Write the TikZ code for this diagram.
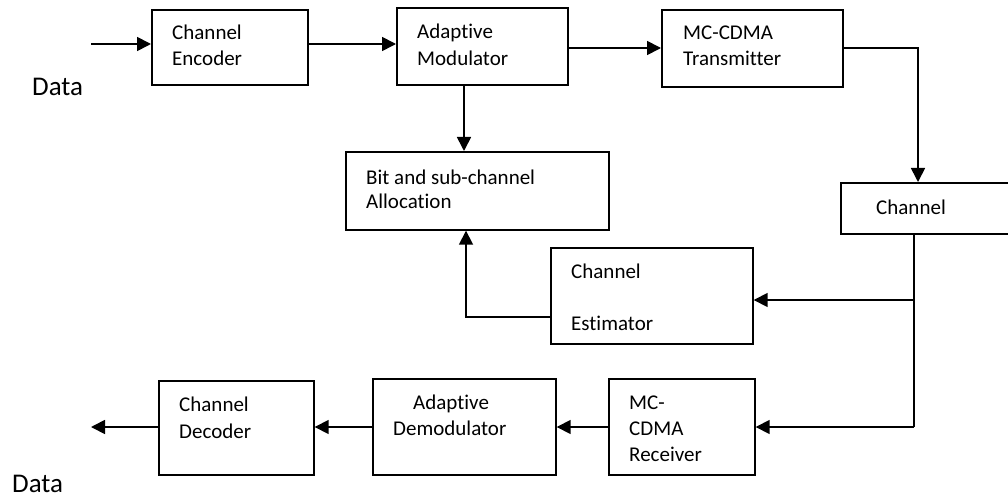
\documentclass[tikz,border=0pt]{standalone}
\usepackage{fontspec}
\setmainfont{Carlito}[Ligatures={NoCommon}]
\usetikzlibrary{arrows.meta}
\tikzset{
  blk/.style={draw, line width=1.7pt, inner sep=0pt},
  txt/.style={anchor=base west, inner sep=0pt, font=\fontsize{21}{25}\selectfont},
  dat/.style={anchor=base west, inner sep=0pt, font=\fontsize{27}{32}\selectfont},
  wire/.style={line width=1.7pt},
  arr/.style={line width=1.7pt, -{Triangle[length=14pt,width=14pt]}}
}
\begin{document}
\begin{tikzpicture}[x=1pt,y=-1pt]
\clip (0,0) rectangle (1008,497);
\fill[white] (0,0) rectangle (1008,497);
% boxes
\node[blk, minimum width=156pt, minimum height=75pt, anchor=north west] (enc) at (151,9) {};
\node[blk, minimum width=171pt, minimum height=77pt, anchor=north west] (mod) at (396,7) {};
\node[blk, minimum width=181pt, minimum height=77pt, anchor=north west] (tx) at (661,9) {};
\node[blk, minimum width=263pt, minimum height=78pt, anchor=north west] (alloc) at (345,151) {};
\node[blk, minimum width=175pt, minimum height=51pt, anchor=north west] (chan) at (840,182) {};
\node[blk, minimum width=202pt, minimum height=96pt, anchor=north west] (est) at (550,247) {};
\node[blk, minimum width=146pt, minimum height=96pt, anchor=north west] (rx) at (608,378) {};
\node[blk, minimum width=183pt, minimum height=96pt, anchor=north west] (demod) at (372,378) {};
\node[blk, minimum width=155pt, minimum height=94pt, anchor=north west] (dec) at (158,380) {};
% texts
\node[txt] (t1) at (172,40) {Channel};
\node[txt] (t2) at (172,66) {Encoder};
\node[txt] (t3) at (417,39) {Adaptive};
\node[txt] (t4) at (417,66) {Modulator};
\node[txt] (t5) at (683,40) {MC-CDMA};
\node[txt] (t6) at (683,66) {Transmitter};
\node[txt] (t7) at (366,185) {Bit and sub-channel};
\node[txt] (t8) at (366,208) {Allocation};
\node[txt] (t9) at (876,214) {Channel};
\node[txt] (t10) at (571,278) {Channel};
\node[txt] (t11) at (571,330) {Estimator};
\node[txt] (t12) at (629,409) {MC-};
\node[txt] (t13) at (629,435) {CDMA};
\node[txt] (t14) at (629,461) {Receiver};
\node[txt] (t15) at (413,409) {Adaptive};
\node[txt] (t16) at (393,435) {Demodulator};
\node[txt] (t17) at (179,411) {Channel};
\node[txt] (t18) at (179,438) {Decoder};
\node[dat] (d1) at (32,96) {Data};
\node[dat] (d2) at (12,492) {Data};
% coordinates
\coordinate (in) at (91,44);
\coordinate (ya) at (0,44);
\coordinate (yb) at (0,48);
\coordinate (xc) at (918,0);
\coordinate (xm) at (464,0);
\coordinate (xd) at (914,0);
\coordinate (ye) at (0,300);
\coordinate (yf) at (0,317);
\coordinate (xf) at (466,0);
\coordinate (yr) at (0,427);
\coordinate (out) at (91,427);
% connectors
\draw[arr] (in) -- (in -| enc.west);
\draw[arr] (enc.east |- ya) -- (mod.west |- ya);
\draw[arr] (mod.east |- yb) -- (tx.west |- yb);
\draw[arr] (tx.east |- yb) -| (xc |- chan.north);
\draw[arr] (xm |- mod.south) -- (xm |- alloc.north);
\draw[wire] (xd |- chan.south) -- (xd |- yr);
\draw[arr] (xd |- ye) -- (est.east |- ye);
\draw[arr] (xd |- yr) -- (rx.east |- yr);
\draw[arr] (est.west |- yf) -| (xf |- alloc.south);
\draw[arr] (rx.west |- yr) -- (demod.east |- yr);
\draw[arr] (demod.west |- yr) -- (dec.east |- yr);
\draw[arr] (dec.west |- yr) -- (out);
\end{tikzpicture}
\end{document}
